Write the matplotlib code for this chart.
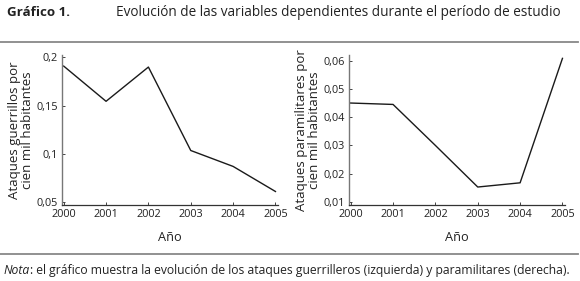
import matplotlib
matplotlib.use("Agg")
import matplotlib.pyplot as plt
from matplotlib.lines import Line2D

plt.rcParams['font.family'] = ['Open Sans', 'DejaVu Sans']

years = [2000, 2001, 2002, 2003, 2004, 2005]
guerrilla = [0.191, 0.1545, 0.190, 0.1035, 0.087, 0.061]
paramilitary = [0.0451, 0.0446, 0.030, 0.0152, 0.0167, 0.061]

left_yticks = [0.05, 0.1, 0.15, 0.2]
left_ylabels = ["0,05", "0,1", "0,15", "0,2"]
right_yticks = [0.01, 0.02, 0.03, 0.04, 0.05, 0.06]
right_ylabels = ["0,01", "0,02", "0,03", "0,04", "0,05", "0,06"]

title_num = "Gráfico 1."
title_text = "Evolución de las variables dependientes durante el período de estudio"
left_ylab = "Ataques guerrillos por\ncien mil habitantes"
right_ylab = "Ataques paramilitares por\ncien mil habitantes"
xlab = "Año"
note_head = "Nota"
note_body = ": el gráfico muestra la evolución de los ataques guerrilleros (izquierda) y paramilitares (derecha)."

fig = plt.figure(figsize=(5.8, 2.81), dpi=100)
W, H = 580, 281

def fx(px): return px / W
def fy(py): return 1 - py / H

ax1 = fig.add_axes([fx(62), fy(205), fx(278) - fx(62), fy(55) - fy(205)])
ax2 = fig.add_axes([fx(349), fy(205), fx(565) - fx(349), fy(55) - fy(205)])

def style(ax, yt, yl, ylim, ylab):
    for s in ['top', 'right']:
        ax.spines[s].set_visible(False)
    ax.spines['left'].set_color('#777777')
    ax.spines['bottom'].set_color('#333333')
    ax.spines['left'].set_linewidth(1.0)
    ax.spines['bottom'].set_linewidth(0.9)
    ax.set_xlim(1999.96, 2005.06)
    ax.set_ylim(*ylim)
    ax.set_xticks(years)
    ax.set_xticklabels([str(y) for y in years], fontsize=7.8, color='#222222')
    ax.set_yticks(yt)
    ax.set_yticklabels(yl, fontsize=7.8, color='#222222')
    ax.tick_params(direction='in', length=2.5, width=0.7, color='#444444', pad=3)
    ax.set_xlabel(xlab, fontsize=9.2, labelpad=8, color='#222222')
    ax.set_ylabel(ylab, fontsize=9.5, labelpad=2, color='#222222', linespacing=0.95)

ax1.plot(years, guerrilla, color='#1a1a1a', lw=1.0)
style(ax1, left_yticks, left_ylabels, (0.047, 0.2025), left_ylab)
ax2.plot(years, paramilitary, color='#1a1a1a', lw=1.0)
style(ax2, right_yticks, right_ylabels, (0.0088, 0.0622), right_ylab)

fig.text(fx(7), fy(13), title_num, fontsize=9.6, fontweight='bold', va='center', ha='left', color='#222222')
fig.text(fx(116), fy(13), title_text, fontsize=9.8, va='center', ha='left', color='#222222')

fig.add_artist(Line2D([0, fx(578)], [fy(42), fy(42)], color='#888888', lw=1.3))
fig.add_artist(Line2D([0, fx(578)], [fy(254), fy(254)], color='#888888', lw=1.3))

t = fig.text(fx(4), fy(277), note_head, fontsize=8.75, style='italic', va='bottom', ha='left', color='#222222')
plt.annotate(note_body, xy=(1, 0), xycoords=t, va='bottom', ha='left',
             fontsize=8.75, color='#222222', annotation_clip=False)

fig.savefig("out.png", dpi=100)
